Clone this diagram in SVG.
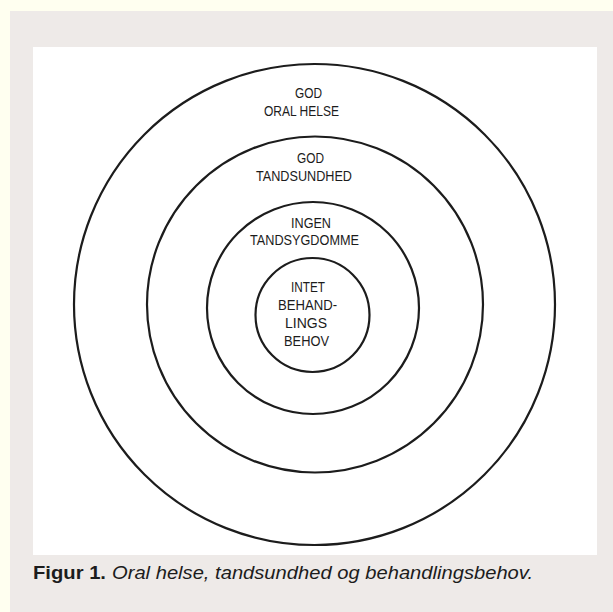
<svg xmlns="http://www.w3.org/2000/svg" width="613" height="612" viewBox="0 0 613 612">
<style>
.ring{fill:none;stroke:#1c1c1c;stroke-width:2.2}
.lbl{font-family:"Liberation Sans",Arial,sans-serif;font-size:15.2px;fill:#1c1c1c;text-anchor:middle}
.cap{font-family:"Liberation Sans",Arial,sans-serif;font-size:19px;fill:#1c1c1c}
</style>
<rect x="0" y="0" width="613" height="612" fill="#fffff0"/>
<rect x="10" y="11" width="603" height="601" fill="#eeeae8"/>
<rect x="33" y="47" width="564" height="508" fill="#ffffff"/>
<g id="outer">
<circle class="ring" cx="314.5" cy="304.5" r="240.5"/>
<text class="lbl" x="308.5" y="98" textLength="27" lengthAdjust="spacingAndGlyphs">GOD</text>
<text class="lbl" x="301.5" y="116" textLength="75" lengthAdjust="spacingAndGlyphs">ORAL HELSE</text>
</g>
<g id="second">
<circle class="ring" cx="315" cy="304.5" r="168"/>
<text class="lbl" x="310.5" y="162.5" textLength="27" lengthAdjust="spacingAndGlyphs">GOD</text>
<text class="lbl" x="304" y="181" textLength="96" lengthAdjust="spacingAndGlyphs">TANDSUNDHED</text>
</g>
<g id="third">
<circle class="ring" cx="313" cy="308" r="106"/>
<text class="lbl" x="311" y="227.5" textLength="40" lengthAdjust="spacingAndGlyphs">INGEN</text>
<text class="lbl" x="304.5" y="244.5" textLength="109" lengthAdjust="spacingAndGlyphs">TANDSYGDOMME</text>
</g>
<g id="inner">
<circle class="ring" cx="312.5" cy="315" r="57"/>
<text class="lbl" x="308" y="292" textLength="34" lengthAdjust="spacingAndGlyphs">INTET</text>
<text class="lbl" x="307.5" y="310" textLength="59" lengthAdjust="spacingAndGlyphs">BEHAND-</text>
<text class="lbl" x="306" y="328" textLength="42" lengthAdjust="spacingAndGlyphs">LINGS</text>
<text class="lbl" x="306.5" y="346" textLength="45" lengthAdjust="spacingAndGlyphs">BEHOV</text>
</g>
<g id="caption">
<text class="cap" x="33" y="579" font-weight="bold" textLength="73" lengthAdjust="spacingAndGlyphs">Figur 1.</text>
<text class="cap" x="112" y="579" font-style="italic" textLength="421" lengthAdjust="spacingAndGlyphs">Oral helse, tandsundhed og behandlingsbehov.</text>
</g>
</svg>
